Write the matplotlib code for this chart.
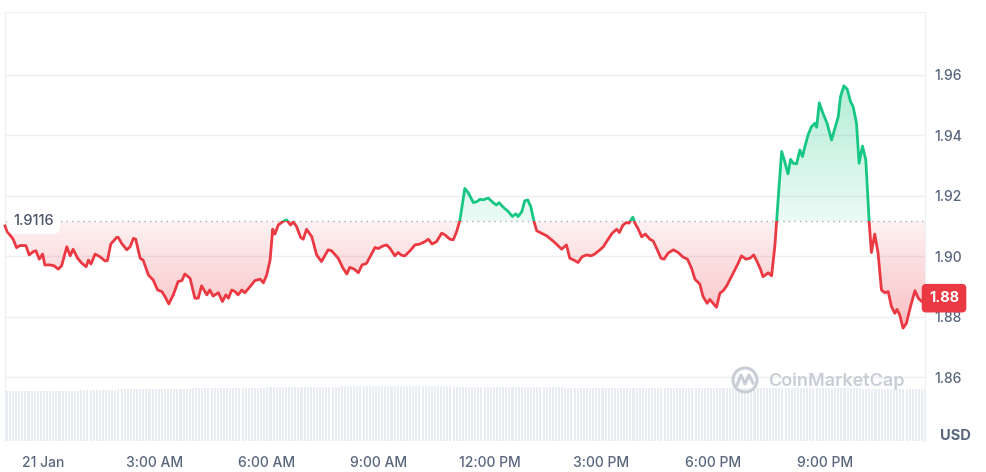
import numpy as np
import matplotlib.pyplot as plt
from matplotlib import transforms
from matplotlib.patches import Rectangle, Circle
from matplotlib.lines import Line2D
from matplotlib.path import Path

# price samples (hours after 21 Jan 00:00, USD)
hours = [-1.02, -0.96, -0.80, -0.71, -0.62, -0.46, -0.37, -0.26, -0.19, -0.10,
         -0.01, 0.05, 0.19, 0.30, 0.41, 0.50, 0.64, 0.73, 0.81, 0.93,
         1.04, 1.16, 1.22, 1.29, 1.40, 1.53, 1.67, 1.73, 1.82, 1.98,
         2.02, 2.11, 2.25, 2.34, 2.43, 2.49, 2.61, 2.69, 2.83, 2.96,
         3.08, 3.19, 3.28, 3.38, 3.50, 3.63, 3.73, 3.81, 3.95, 4.08,
         4.17, 4.26, 4.40, 4.48, 4.57, 4.71, 4.82, 4.91, 4.98, 5.07,
         5.16, 5.24, 5.34, 5.42, 5.56, 5.69, 5.83, 5.92, 6.01, 6.10,
         6.17, 6.23, 6.32, 6.44, 6.54, 6.65, 6.72, 6.81, 6.92, 6.99,
         7.08, 7.22, 7.35, 7.48, 7.66, 7.75, 7.93, 8.06, 8.16, 8.24,
         8.36, 8.47, 8.57, 8.69, 8.81, 8.92, 9.00, 9.14, 9.23, 9.32,
         9.45, 9.54, 9.63, 9.72, 9.86, 9.99, 10.12, 10.26, 10.35, 10.45,
         10.57, 10.71, 10.80, 10.93, 11.02, 11.11, 11.20, 11.33, 11.42, 11.56,
         11.65, 11.74, 11.82, 11.96, 12.09, 12.18, 12.25, 12.36, 12.50, 12.61,
         12.70, 12.76, 12.86, 12.94, 13.02, 13.10, 13.19, 13.26, 13.39, 13.53,
         13.66, 13.79, 13.93, 14.06, 14.15, 14.26, 14.37, 14.48, 14.60, 14.72,
         14.82, 14.96, 15.05, 15.18, 15.29, 15.41, 15.48, 15.58, 15.67, 15.74,
         15.84, 15.90, 15.99, 16.08, 16.18, 16.30, 16.39, 16.48, 16.60, 16.68,
         16.79, 16.93, 17.06, 17.19, 17.31, 17.42, 17.51, 17.64, 17.73, 17.84,
         17.91, 18.00, 18.09, 18.18, 18.27, 18.36, 18.49, 18.58, 18.67, 18.76,
         18.88, 18.99, 19.09, 19.18, 19.27, 19.34, 19.48, 19.57, 19.66, 19.77,
         19.84, 19.91, 20.01, 20.08, 20.15, 20.24, 20.33, 20.40, 20.46, 20.55,
         20.64, 20.73, 20.78, 20.85, 20.95, 21.06, 21.18, 21.27, 21.36, 21.42,
         21.51, 21.60, 21.69, 21.76, 21.85, 21.92, 22.01, 22.10, 22.19, 22.25,
         22.34, 22.43, 22.52, 22.61, 22.70, 22.79, 22.88, 22.94, 23.01, 23.10,
         23.19, 23.30, 23.42, 23.51, 23.60, 23.69]
price = [1.9101, 1.9082, 1.9057, 1.9029, 1.9036, 1.9036, 1.9005, 1.9016, 1.9019, 1.8991,
         1.9008, 1.8972, 1.8972, 1.8969, 1.8958, 1.8969, 1.9032, 1.9002, 1.9024, 1.8994,
         1.8978, 1.8966, 1.8988, 1.8975, 1.9008, 1.8999, 1.8985, 1.8986, 1.9041, 1.9063,
         1.9063, 1.9044, 1.9022, 1.9032, 1.9060, 1.9057, 1.8994, 1.8988, 1.8939, 1.8922,
         1.8889, 1.8884, 1.8867, 1.8843, 1.8873, 1.8917, 1.8920, 1.8942, 1.8928, 1.8862,
         1.8862, 1.8903, 1.8873, 1.8889, 1.8869, 1.8880, 1.8851, 1.8873, 1.8862, 1.8889,
         1.8884, 1.8873, 1.8889, 1.8880, 1.8900, 1.8920, 1.8925, 1.8913, 1.8939, 1.8988,
         1.9090, 1.9074, 1.9104, 1.9115, 1.9121, 1.9104, 1.9114, 1.9099, 1.9063, 1.9057,
         1.9090, 1.9065, 1.9005, 1.8983, 1.9022, 1.9019, 1.8994, 1.8961, 1.8942, 1.8964,
         1.8958, 1.8946, 1.8972, 1.8977, 1.9005, 1.9030, 1.9026, 1.9035, 1.9038, 1.9027,
         1.9002, 1.9013, 1.9004, 1.9002, 1.9019, 1.9038, 1.9041, 1.9049, 1.9057, 1.9041,
         1.9049, 1.9077, 1.9071, 1.9057, 1.9055, 1.9082, 1.9121, 1.9225, 1.9211, 1.9178,
         1.9181, 1.9189, 1.9187, 1.9193, 1.9178, 1.9170, 1.9178, 1.9163, 1.9148, 1.9132,
         1.9141, 1.9132, 1.9148, 1.9184, 1.9187, 1.9165, 1.9115, 1.9085, 1.9077, 1.9068,
         1.9055, 1.9041, 1.9024, 1.9038, 1.8994, 1.8988, 1.8980, 1.8999, 1.9005, 1.9002,
         1.9008, 1.9022, 1.9032, 1.9057, 1.9077, 1.9090, 1.9079, 1.9104, 1.9112, 1.9110,
         1.9130, 1.9110, 1.9090, 1.9065, 1.9074, 1.9057, 1.9051, 1.9027, 1.8994, 1.8991,
         1.9011, 1.9022, 1.9013, 1.8998, 1.8991, 1.8961, 1.8925, 1.8909, 1.8867, 1.8845,
         1.8858, 1.8845, 1.8832, 1.8878, 1.8887, 1.8902, 1.8933, 1.8955, 1.8977, 1.9002,
         1.8991, 1.8994, 1.9005, 1.8983, 1.8958, 1.8933, 1.8946, 1.8936, 1.9038, 1.9231,
         1.9347, 1.9319, 1.9273, 1.9321, 1.9308, 1.9306, 1.9352, 1.9330, 1.9361, 1.9402,
         1.9429, 1.9440, 1.9427, 1.9508, 1.9473, 1.9440, 1.9385, 1.9424, 1.9462, 1.9528,
         1.9564, 1.9553, 1.9512, 1.9495, 1.9440, 1.9308, 1.9365, 1.9319, 1.9115, 1.9013,
         1.9074, 1.9011, 1.8889, 1.8880, 1.8884, 1.8834, 1.8812, 1.8825, 1.8807, 1.8763,
         1.8779, 1.8834, 1.8887, 1.8862, 1.8851, 1.8862]
ref_price = 1.9116
ref_label = '1.9116'
last_label = '1.88'

# hourly volume (relative units)
vol_hour = [-1, 0, 1, 2, 3, 4, 5, 6, 7, 8, 9, 10, 11, 12,
            13, 14, 15, 16, 17, 18, 19, 20, 21, 22, 23]
vol = [50, 50, 51, 52, 52, 53, 53, 54, 54, 55, 55, 55, 54, 54,
       54, 53, 53, 53, 53, 53, 53, 53, 53, 52, 52]

tick_hours = [0, 3, 6, 9, 12, 15, 18, 21]
tick_labels = ['21 Jan', '3:00 AM', '6:00 AM', '9:00 AM',
               '12:00 PM', '3:00 PM', '6:00 PM', '9:00 PM']
y_ticks = [1.86, 1.88, 1.90, 1.92, 1.94, 1.96]

RED = '#ea3943'
GREEN = '#16c784'
GREY = '#58667e'
LINE = '#eceff3'

plt.rcParams['font.family'] = ['Inter', 'DejaVu Sans']

t = np.array(hours)
p = np.array(price)
xmin, xmax = -1.02, 23.69
ymin, ymax = 1.8390, 1.9808

fig = plt.figure(figsize=(9.87, 4.72), dpi=100)
pos = [5 / 987, 31 / 472, 920 / 987, 429 / 472]

# volume bars underneath
vax = fig.add_axes(pos)
bar_t = np.arange(-1.0, 23.7, 1 / 12)
idx = np.clip(np.searchsorted(vol_hour, bar_t, side='right') - 1, 0, len(vol) - 1)
vax.bar(bar_t, np.array(vol)[idx], width=0.055, color='#e9ecf0', align='edge')
vax.set_xlim(xmin, xmax)
vax.set_ylim(0, 429)
vax.axis('off')

ax = fig.add_axes(pos)
ax.set_facecolor('none')


def grad_fill(where, y0, y1, rgb, a0, a1):
    poly = ax.fill_between(t, p, ref_price, where=where, interpolate=True,
                           facecolor='none', edgecolor='none')
    path = Path.make_compound_path(*poly.get_paths())
    a = np.linspace(a0, a1, 256)[:, None]
    img = np.zeros((256, 2, 4))
    img[..., :3] = rgb
    img[..., 3] = a
    im = ax.imshow(img, extent=[xmin, xmax, y0, y1], origin='lower',
                   aspect='auto', zorder=1, interpolation='bilinear')
    im.set_clip_path(path, ax.transData)


grad_fill(p <= ref_price, p.min(), ref_price, (0.918, 0.224, 0.263), 0.32, 0.07)
grad_fill(p >= ref_price, ref_price, p.max(), (0.086, 0.78, 0.518), 0.08, 0.32)

# line, red below the reference and green above it
for col, y0, y1 in [(RED, ymin - 1, ref_price), (GREEN, ref_price, ymax + 1)]:
    ln, = ax.plot(t, p, color=col, lw=2.0, zorder=3, solid_joinstyle='round')
    ln.set_clip_path(Rectangle((xmin - 1, y0), xmax - xmin + 2, y1 - y0,
                               transform=ax.transData))

ax.axhline(ref_price, color='#a3acba', lw=1, ls=(0, (1, 3)), zorder=2)

ax.set_xlim(xmin, xmax)
ax.set_ylim(ymin, ymax)
ax.set_yticks(y_ticks, [f'{v:.2f}' for v in y_ticks])
ax.set_xticks(tick_hours, tick_labels)
ax.yaxis.tick_right()
ax.tick_params(axis='y', length=0, pad=7, labelsize=10, labelcolor=GREY)
ax.tick_params(axis='x', length=0, pad=11, labelsize=10, labelcolor=GREY)
for lab in ax.get_xticklabels() + ax.get_yticklabels():
    lab.set_fontweight('medium')
ax.grid(axis='y', color=LINE, lw=1)
ax.set_axisbelow(True)
for s in ('left', 'top', 'right'):
    ax.spines[s].set_color(LINE)
ax.spines['bottom'].set_visible(False)

trans = transforms.blended_transform_factory(ax.transAxes, ax.transData)
ax.text(0.009, ref_price, ref_label, transform=trans, ha='left', va='center',
        fontsize=10.5, color='#4a5568', weight='medium', zorder=4,
        bbox=dict(boxstyle='round,pad=0.4,rounding_size=0.5', fc='white', ec='none'))
ax.text(1.0207, p[-1], last_label, transform=trans, ha='center', va='center',
        fontsize=10.5, color='white', weight='bold', zorder=5, clip_on=False,
        bbox=dict(boxstyle='round,pad=0.5,rounding_size=0.3', fc=RED, ec='none'))

fig.text(955 / 987, 1 - 436 / 472, 'USD', ha='center', va='center',
         fontsize=10.5, weight='bold', color=GREY)

# watermark
wm = '#c9ced6'
fig.add_artist(Circle((7.45, 0.92), 0.12, transform=fig.dpi_scale_trans,
                      fill=False, ec=wm, lw=2.2))
fig.add_artist(Line2D([7.37, 7.41, 7.45, 7.49, 7.53], [0.87, 0.97, 0.88, 0.97, 0.89],
                      transform=fig.dpi_scale_trans, color=wm, lw=2.2))
fig.text(768 / 987, 1 - 381 / 472, 'CoinMarketCap', ha='left', va='center',
         fontsize=13, weight='semibold', color=wm)

fig.savefig('out.png', dpi=100, facecolor='white')
